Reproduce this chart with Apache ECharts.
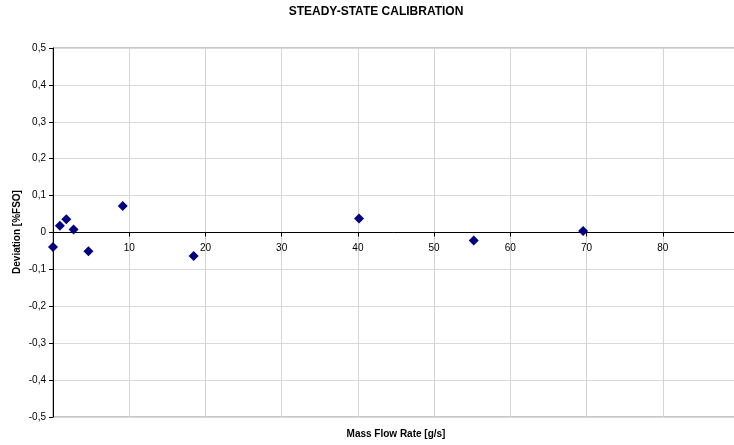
<!DOCTYPE html>
<html>
<head>
<meta charset="utf-8">
<script src="https://cdn.jsdelivr.net/npm/echarts@6/dist/echarts.min.js"></script>
<style>
  html, body { margin: 0; padding: 0; background: #ffffff; }
  #chart { width: 734px; height: 445px; }
</style>
</head>
<body>
<div id="chart"></div>
<script>
// Calibration points: mass flow rate [g/s] and deviation [%FSO]
const massFlow  = [0.0, 0.9, 1.75, 2.7, 4.65, 9.15, 18.45, 40.15, 55.2, 69.55];
const deviation = [-0.039, 0.018, 0.036, 0.008, -0.051, 0.072, -0.064, 0.038, -0.022, 0.004];

const chartTitle = 'STEADY-STATE CALIBRATION';
const xTitle = 'Mass Flow Rate [g/s]';
const yTitle = 'Deviation [%FSO]';

const FONT = '"Liberation Sans", Arial, sans-serif';

const GRID_TOP = 48;
const GRID_H = 369;
// x tick labels sit on the zero line, half way down the plot area
const ZERO_OFFSET = -GRID_H / 2;

const points = massFlow.map((x, i) => [x, deviation[i]]);

const chart = echarts.init(document.getElementById('chart'), null, { renderer: 'canvas' });

const xRange = { type: 'value', min: 0, max: 90, interval: 10 };

chart.setOption({
  animation: false,
  backgroundColor: '#ffffff',
  textStyle: { fontFamily: FONT },
  grid: {
    left: 53, top: GRID_TOP, width: 686, height: GRID_H,
    containLabel: false,
    outerBoundsMode: 'none',
    show: true, borderColor: '#8c8c8c', borderWidth: 1, backgroundColor: 'transparent'
  },
  xAxis: [
    Object.assign({}, xRange, {
      axisLine: { show: true, onZero: true, lineStyle: { color: '#000000', width: 1 } },
      axisTick: { show: true, inside: false, length: 4, lineStyle: { color: '#000000' } },
      axisLabel: { show: false },
      splitLine: { show: true, lineStyle: { color: '#d4d4d4', width: 1 } }
    }),
    Object.assign({}, xRange, {
      position: 'bottom', offset: ZERO_OFFSET,
      axisLine: { show: false, onZero: false },
      axisTick: { show: false },
      axisLabel: {
        margin: 11, fontSize: 10, color: '#000000', fontFamily: FONT,
        showMinLabel: true, showMaxLabel: true, hideOverlap: false,
        formatter: v => (v === 0 ? '' : String(v))
      },
      splitLine: { show: false }
    })
  ],
  yAxis: {
    type: 'value', min: -0.5, max: 0.5, interval: 0.1,
    axisLine: { show: true, onZero: false, lineStyle: { color: '#000000', width: 1 } },
    axisTick: { show: true, inside: false, length: 4, lineStyle: { color: '#000000' } },
    axisLabel: {
      margin: 7, fontSize: 10, color: '#000000', fontFamily: FONT,
      formatter: v => {
        const r = Math.round(v * 10) / 10;
        return r === 0 ? '0' : r.toFixed(1).replace('.', ',');
      }
    },
    splitLine: { show: true, lineStyle: { color: '#d9d9d9', width: 1 } }
  },
  graphic: [
    {
      type: 'text',
      style: {
        text: chartTitle, x: 376, y: 12, textAlign: 'center', textVerticalAlign: 'middle',
        font: 'bold 12px ' + FONT, fill: '#000000'
      }
    },
    {
      type: 'text',
      style: {
        text: xTitle, x: 396, y: 434, textAlign: 'center', textVerticalAlign: 'middle',
        font: 'bold 10px ' + FONT, fill: '#000000'
      }
    },
    {
      type: 'text', x: 17, y: 232, rotation: Math.PI / 2,
      style: {
        text: yTitle, x: 0, y: 0, textAlign: 'center', textVerticalAlign: 'middle',
        font: 'bold 10px ' + FONT, fill: '#000000'
      }
    }
  ],
  series: [{
    type: 'scatter',
    xAxisIndex: 0,
    data: points,
    symbol: 'diamond',
    symbolSize: [10, 10],
    itemStyle: { color: '#000080', opacity: 1 },
    z: 5
  }]
});
</script>
</body>
</html>
